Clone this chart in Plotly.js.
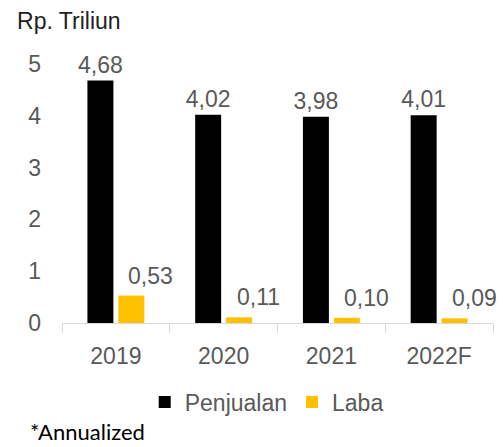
<!DOCTYPE html>
<html>
<head>
<meta charset="utf-8">
<script src="https://cdn.plot.ly/plotly-3.0.1.min.js"></script>
<style>html,body{margin:0;padding:0;background:#fff;}#chart{width:503px;height:447px;}</style>
</head>
<body>
<div id="chart"></div>
<script>
const categories = ["2019", "2020", "2021", "2022F"];
const penjualan = [4.68, 4.02, 3.98, 4.01];
const laba = [0.53, 0.11, 0.10, 0.09];
const seriesNames = ["Penjualan", "Laba"];
const unitLabel = "Rp. Triliun";
const footnote = "*Annualized";

const fmt = v => v.toFixed(2).replace('.', ',');
const labelFont = {family: "Liberation Sans, Arial, sans-serif", size: 23, color: "#595959"};

const traces = [
  {
    type: "bar", name: seriesNames[0], x: categories, y: penjualan,
    marker: {color: "#000000"},
    text: penjualan.map(fmt), textposition: "outside", textfont: labelFont,
    constraintext: "none", cliponaxis: false, hoverinfo: "none"
  },
  {
    type: "bar", name: seriesNames[1], x: categories, y: laba,
    marker: {color: "#FFC000"},
    hoverinfo: "none"
  }
];

// category index positions for annotation placement on the category axis
const annotations = categories.map((c, i) => ({
  x: i, y: laba[i], xref: "x", yref: "y",
  text: fmt(laba[i]), showarrow: false,
  xshift: 35, yshift: 20, yanchor: "middle", xanchor: "center",
  font: labelFont
}));
annotations.push({
  xref: "paper", yref: "paper", x: -0.079, y: -0.418,
  xanchor: "left", yanchor: "middle", showarrow: false,
  text: footnote, font: {family: "Lato, sans-serif", size: 22, color: "#000000"}
});

const layout = {
  width: 503, height: 447,
  margin: {l: 62, r: 10, t: 64, b: 124},
  paper_bgcolor: "#ffffff", plot_bgcolor: "#ffffff",
  barmode: "group", bargap: 0.426, bargroupgap: 0.16,
  title: {
    text: unitLabel, x: 0.034, xanchor: "left", y: 0.953, yanchor: "middle",
    xref: "container", yref: "container",
    font: {family: "Liberation Sans, Arial, sans-serif", size: 23, color: "#222222"}
  },
  xaxis: {
    type: "category", range: [-0.5, categories.length - 0.5],
    showline: true, linecolor: "#d9d9d9", linewidth: 1,
    ticks: "outside", tickson: "boundaries", ticklen: 9, tickcolor: "#d9d9d9",
    ticklabelstandoff: 12,
    tickfont: labelFont, showgrid: false, zeroline: false
  },
  yaxis: {
    range: [0, 5], dtick: 1, tick0: 0, showline: false, showgrid: false,
    zeroline: false, ticks: "", ticklabelstandoff: 20, tickfont: labelFont
  },
  showlegend: true,
  legend: {
    orientation: "h", x: 0.475, xanchor: "center", y: -0.305, yanchor: "middle",
    font: labelFont, traceorder: "normal"
  },
  annotations: annotations
};

Plotly.newPlot("chart", traces, layout, {staticPlot: true, displayModeBar: false});
</script>
</body>
</html>
